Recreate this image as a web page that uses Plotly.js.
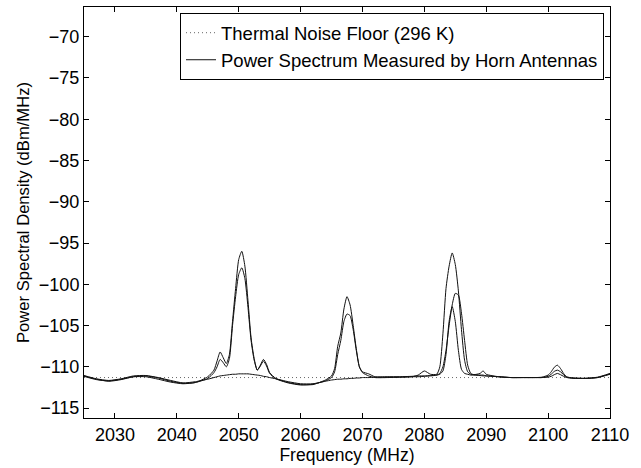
<!DOCTYPE html>
<html>
<head>
<meta charset="utf-8">
<script src="https://cdn.plot.ly/plotly-3.0.1.min.js"></script>
<style>html,body{margin:0;padding:0;background:#fff;}#chart{width:641px;height:468px;}</style>
</head>
<body>
<div id="chart"></div>
<script>
// Frequency samples (MHz)
const freq = [2025,2027,2029,2031,2033,2035,2037,2039,2041,2043,2045,2046,2046.5,2047,2047.5,2048,2048.5,2049,2049.5,2050,2050.5,2051,2051.5,2052,2052.5,2053,2053.5,2054,2054.5,2055,2056,2058,2060,2062,2064,2065,2065.5,2066,2066.5,2067,2067.5,2068,2068.5,2069,2069.5,2070,2071,2072,2074,2076,2078,2079,2080,2081,2082,2082.5,2083,2083.5,2084,2084.5,2085,2085.5,2086,2086.5,2087,2087.5,2088,2089,2089.5,2090,2092,2094,2096,2098,2099,2100,2100.5,2101,2101.5,2102,2102.5,2103,2104,2106,2108,2110];

// Measured power spectra (dBm/MHz)
const spectrumA = [-111.1,-111.5,-111.75,-111.55,-111.2,-111.1,-111.35,-111.75,-112.0,-111.9,-111.2,-110.4,-109.3,-108.2,-108.9,-109.6,-108.5,-104.5,-100.5,-97.0,-96.0,-97.8,-102.0,-106.5,-109.0,-110.4,-109.8,-109.1,-109.7,-110.7,-111.4,-111.9,-112.15,-112.15,-111.6,-111.1,-110.2,-107.5,-105.9,-103.0,-101.5,-102.5,-105.0,-107.8,-110.0,-110.6,-110.85,-111.2,-111.25,-111.25,-111.2,-111.0,-110.5,-110.9,-110.9,-110.0,-106.0,-100.5,-97.8,-96.2,-97.6,-100.8,-105.5,-109.2,-110.6,-110.9,-110.95,-110.8,-110.5,-110.9,-111.2,-111.3,-111.3,-111.3,-111.25,-111.0,-110.6,-110.05,-109.8,-110.2,-110.8,-111.2,-111.35,-111.4,-111.3,-110.85];
const spectrumB = [-111.15,-111.55,-111.7,-111.5,-111.2,-111.2,-111.5,-111.85,-112.05,-111.9,-111.4,-110.7,-110.0,-109.1,-109.5,-110.0,-109.0,-105.0,-101.5,-98.8,-98.0,-99.3,-102.8,-106.8,-109.2,-110.4,-109.9,-109.3,-109.9,-110.8,-111.45,-111.95,-112.2,-112.1,-111.7,-111.3,-110.6,-108.5,-106.8,-104.5,-103.6,-103.8,-105.5,-108.0,-110.0,-110.7,-111.1,-111.3,-111.3,-111.25,-111.2,-111.2,-111.15,-111.1,-111.0,-110.8,-110.0,-108.0,-105.0,-102.5,-101.1,-101.3,-103.5,-106.8,-109.8,-110.8,-110.95,-111.0,-111.0,-111.1,-111.2,-111.3,-111.3,-111.3,-111.3,-111.15,-110.9,-110.55,-110.4,-110.6,-110.95,-111.25,-111.4,-111.4,-111.3,-110.9];
const spectrumC = [-111.05,-111.45,-111.65,-111.45,-111.1,-111.05,-111.3,-111.65,-111.95,-111.8,-111.5,-111.3,-111.2,-111.1,-111.05,-111.0,-110.95,-110.9,-110.9,-110.85,-110.85,-110.85,-110.85,-110.9,-110.95,-111.0,-111.05,-111.15,-111.2,-111.3,-111.45,-111.8,-112.05,-112.05,-111.75,-111.6,-111.55,-111.5,-111.5,-111.45,-111.45,-111.4,-111.4,-111.35,-111.35,-111.3,-111.3,-111.25,-111.2,-111.2,-111.15,-111.1,-111.1,-111.05,-111.0,-110.9,-110.5,-108.5,-104.5,-102.7,-104.5,-108.0,-110.3,-110.8,-110.9,-111.0,-111.0,-111.05,-111.1,-111.1,-111.2,-111.3,-111.3,-111.3,-111.3,-111.25,-111.15,-110.95,-110.8,-110.95,-111.15,-111.3,-111.35,-111.4,-111.25,-110.8];

// Thermal noise floor (296 K)
const noiseFreq = [2025, 2110];
const noiseFloor = [-111.3, -111.3];

const names = ['Thermal Noise Floor (296 K)', 'Power Spectrum Measured by Horn Antennas'];

const FONT = 'Liberation Sans, Arial, Helvetica, sans-serif';
const lineStyle = {color: '#111', width: 1, shape: 'spline', smoothing: 0.6};

const traces = [
  {x: noiseFreq, y: noiseFloor, type: 'scatter', mode: 'lines', name: names[0],
   line: {color: '#666', width: 1, dash: '1px,3px'}},
  {x: freq, y: spectrumA, type: 'scatter', mode: 'lines', name: names[1], line: lineStyle},
  {x: freq, y: spectrumB, type: 'scatter', mode: 'lines', name: names[1], line: lineStyle, showlegend: false},
  {x: freq, y: spectrumC, type: 'scatter', mode: 'lines', name: names[1], line: lineStyle, showlegend: false}
];

const axisCommon = {
  showline: true, linecolor: '#000', linewidth: 1, mirror: 'ticks',
  ticks: 'inside', ticklen: 5, tickcolor: '#000', tickwidth: 1,
  showgrid: false, zeroline: false,
  tickfont: {family: FONT, size: 18, color: '#000'}
};

const layout = {
  width: 641, height: 468,
  margin: {l: 84, r: 31, t: 7, b: 50},
  paper_bgcolor: '#fff', plot_bgcolor: '#fff',
  font: {family: FONT, size: 18, color: '#000'},
  showlegend: true,
  legend: {
    x: 0.9886, xanchor: 'right', y: 0.985, yanchor: 'top',
    bordercolor: '#000', borderwidth: 1, bgcolor: '#fff',
    font: {family: FONT, size: 18.5, color: '#000'},
    itemwidth: 30,
    tracegroupgap: 0
  },
  xaxis: Object.assign({}, axisCommon, {
    range: [2025, 2110], dtick: 10, tick0: 2030,
    title: {text: 'Frequency (MHz)', font: {family: FONT, size: 17.5, color: '#000'}, standoff: 1}
  }),
  yaxis: Object.assign({}, axisCommon, {
    range: [-116.2, -66.4], dtick: 5, tick0: -115,
    title: {text: 'Power Spectral Density (dBm/MHz)', font: {family: FONT, size: 16.6, color: '#000'}, standoff: 5}
  })
};

Plotly.newPlot('chart', traces, layout, {displayModeBar: false, staticPlot: true});
</script>
</body>
</html>
